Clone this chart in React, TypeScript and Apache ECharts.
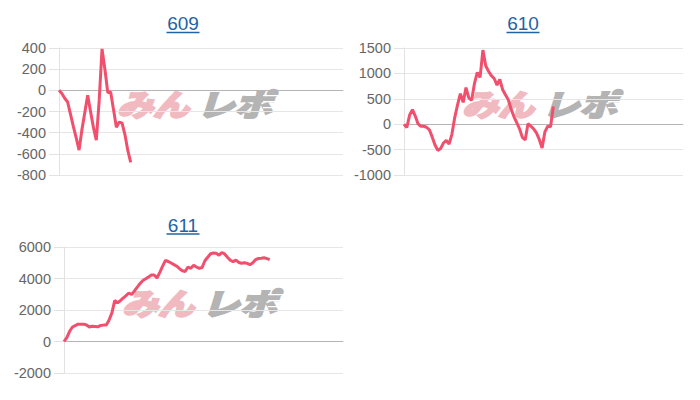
import React, { useEffect, useRef } from "react";
import * as echarts from "echarts";

// ---- data ----
const CATEGORY_COUNT = 100;
const categories: string[] = Array.from({ length: CATEGORY_COUNT }, (_, i) => String(i + 1));

const titles = ["609", "610", "611"];

const values609 = [
  0, -30, -75, -110, -225, -340, -450, -565, -370, -210, -47, -200, -350, -470, -100, 392,
  200, -20, -15, -180, -350, -300, -310, -420, -570, -680,
];

const values610 = [
  0, -65, 180, 285, 160, 5, -40, -40, -60, -110, -250, -410, -515, -480, -370, -320, -390,
  -200, 130, 380, 600, 430, 720, 520, 470, 800, 1020, 920, 1460, 1150, 1040, 955, 900, 770,
  880, 680, 580, 480, 300, 150, 30, -90, -260, -310, 10, -40, -90, -170, -300, -470, -150,
  -40, -50, 350,
];

const values611 = [
  0, 250, 650, 920, 1010, 1100, 1100, 1100, 1050, 920, 970, 950, 930, 1020, 1040, 1040, 1360,
  1820, 2600, 2460, 2590, 2760, 2910, 3080, 2980, 3210, 3450, 3680, 3870, 3980, 4100, 4220,
  4230, 4030, 4390, 4780, 5150, 5080, 4980, 4880, 4780, 4620, 4490, 4450, 4730, 4650, 4840,
  4730, 4640, 4700, 5130, 5350, 5570, 5620, 5600, 5480, 5650, 5560, 5350, 5160, 5070, 5170,
  5020, 4970, 5000, 4960, 4880, 5000, 5200, 5270, 5290, 5320, 5260, 5200,
];

const yMins = [-800, -1000, -2000];
const yMaxs = [400, 1500, 6000];
const yIntervals = [200, 500, 2000];

const seriesValues = [values609, values610, values611];

// ---- layout / style ----
const grids = [
  { left: 59, top: 48, width: 284, height: 127 },
  { left: 404, top: 48, width: 279, height: 127 },
  { left: 64, top: 247, width: 279, height: 126 },
];
const titlePos = [
  { x: 183, y: 23.5 },
  { x: 523, y: 23.5 },
  { x: 183, y: 225 },
];

const LINE_COLOR = "#f04f6d";
const TITLE_COLOR = "#1f64a6";
const FONT = "'Liberation Sans', Arial, sans-serif";
const WM_PINK = "#f1b9c0";
const WM_GRAY = "#b4b4b4";

export default function App() {
  const ref = useRef<HTMLDivElement>(null);

  useEffect(() => {
    document.body.style.margin = "0";
    const chart = echarts.init(ref.current!, undefined, { renderer: "svg" });

    const graphics: any[] = [];
    grids.forEach((g, i) => {
      // watermark
      const stripes = [7, 13, 19].map((dy) => ({
        type: "rect",
        shape: { x: 146, y: dy, width: 76, height: 1.3 },
        style: { fill: "#ffffff" },
      }));
      graphics.push({
        type: "group",
        x: g.left + 58,
        y: g.top + 40,
        z: -10,
        silent: true,
        children: [
          {
            type: "text",
            x: 0,
            y: 0,
            scaleX: 1.2,
            style: {
              text: "みん",
              fontFamily: "'Noto Sans CJK JP'",
              fontSize: 30,
              fontWeight: "bold",
              fontStyle: "italic",
              fill: WM_PINK,
              stroke: WM_PINK,
              lineWidth: 2.5,
              verticalAlign: "top",
            },
          },
          {
            type: "text",
            x: 80,
            y: 0,
            scaleX: 1.25,
            style: {
              text: "レポ",
              fontFamily: "'Noto Sans CJK JP'",
              fontSize: 30,
              fontWeight: "bold",
              fontStyle: "italic",
              fill: WM_GRAY,
              stroke: WM_GRAY,
              lineWidth: 2.5,
              verticalAlign: "top",
            },
          },
          ...stripes,
        ],
      });
      // title
      const t = titlePos[i];
      graphics.push({
        type: "text",
        x: t.x,
        y: t.y,
        style: {
          text: titles[i],
          font: `19px ${FONT}`,
          fill: TITLE_COLOR,
          align: "center",
          verticalAlign: "middle",
        },
      });
      graphics.push({
        type: "line",
        shape: { x1: t.x - 16.5, y1: t.y + 9, x2: t.x + 16.5, y2: t.y + 9 },
        style: { stroke: TITLE_COLOR, lineWidth: 1.5 },
      });
    });

    const option: any = {
      animation: false,
      grid: grids.map((g) => ({ ...g, containLabel: false })),
      graphic: graphics,
      xAxis: grids.map((_, i) => ({
        type: "category",
        gridIndex: i,
        data: categories,
        boundaryGap: false,
        axisLabel: { show: false },
        axisTick: { show: false },
        axisLine: { show: true, lineStyle: { color: "#c8c8c8", width: 1 } },
        splitLine: { show: false },
      })),
      yAxis: grids.map((_, i) => ({
        type: "value",
        gridIndex: i,
        min: yMins[i],
        max: yMaxs[i],
        interval: yIntervals[i],
        axisLine: { show: true, lineStyle: { color: "#e2e2e2", width: 1 } },
        axisTick: { show: true, length: 10, lineStyle: { color: "#e2e2e2" } },
        axisLabel: {
          margin: 13,
          color: "#666",
          fontSize: 14.5,
          fontFamily: FONT,
          formatter: (v: number) => String(v),
        },
        splitLine: { show: true, lineStyle: { color: "#e6e6e6", width: 1 } },
      })),
      series: seriesValues.map((vals, i) => ({
        type: "line",
        xAxisIndex: i,
        yAxisIndex: i,
        data: vals,
        showSymbol: false,
        z: 3,
        lineStyle: { color: LINE_COLOR, width: 3 },
        itemStyle: { color: LINE_COLOR },
        markLine: {
          silent: true,
          symbol: "none",
          label: { show: false },
          lineStyle: { color: "#b5b5b5", type: "solid", width: 1 },
          data: [{ yAxis: 0 }],
          z: 1,
        },
      })),
    };
    chart.setOption(option);
    return () => chart.dispose();
  }, []);

  return (
    <div
      ref={ref}
      style={{ position: "absolute", left: 0, top: 0, width: 700, height: 400, background: "#fff" }}
    />
  );
}
